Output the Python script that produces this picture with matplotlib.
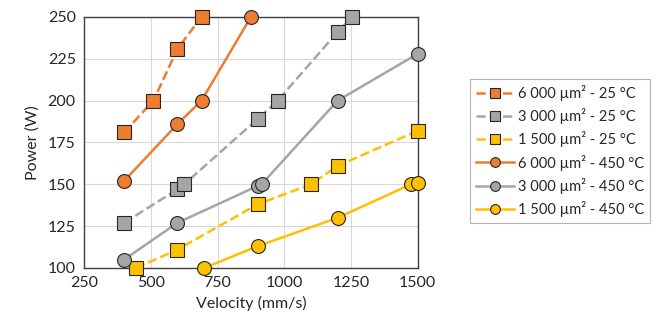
import matplotlib.pyplot as plt

plt.rcParams['font.family'] = ['Lato', 'DejaVu Sans']

orange = '#ED7D31'
grey = '#A5A5A5'
yellow = '#FFC000'

# 25 °C series (squares, dashed)
v_6000_25 = [400, 510, 600, 690]
p_6000_25 = [181, 200, 231, 250]
v_3000_25 = [400, 600, 625, 900, 975, 1200, 1255]
p_3000_25 = [127, 147, 150, 189, 200, 241, 250]
v_1500_25 = [445, 600, 900, 1100, 1200, 1500]
p_1500_25 = [100, 111, 138, 150, 161, 182]

# 450 °C series (circles, solid)
v_6000_450 = [400, 600, 690, 875]
p_6000_450 = [152, 186, 200, 250]
v_3000_450 = [400, 600, 900, 915, 1200, 1500]
p_3000_450 = [105, 127, 149, 150, 200, 228]
v_1500_450 = [700, 900, 1200, 1475, 1500]
p_1500_450 = [100, 113, 130, 150, 151]

series = [
    (v_6000_25, p_6000_25, orange, 's', '--', '6 000 µm² - 25 °C'),
    (v_3000_25, p_3000_25, grey, 's', '--', '3 000 µm² - 25 °C'),
    (v_1500_25, p_1500_25, yellow, 's', '--', '1 500 µm² - 25 °C'),
    (v_6000_450, p_6000_450, orange, 'o', '-', '6 000 µm² - 450 °C'),
    (v_3000_450, p_3000_450, grey, 'o', '-', '3 000 µm² - 450 °C'),
    (v_1500_450, p_1500_450, yellow, 'o', '-', '1 500 µm² - 450 °C'),
]

fig = plt.figure(figsize=(6.62, 3.26), dpi=100)
ax = fig.add_axes([0.127, 0.178, 0.504, 0.77])

for v, p, c, m, ls, lab in series:
    ax.plot(v, p, color=c, linestyle=ls, linewidth=1.8, marker=m,
            markersize=10 if m == 'o' else 9.5, markerfacecolor=c,
            markeredgecolor='#262626', markeredgewidth=0.8, label=lab,
            clip_on=False, zorder=3)

ax.set_xlim(250, 1500)
ax.set_ylim(100, 250)
ax.set_xticks([250, 500, 750, 1000, 1250, 1500])
ax.set_yticks([100, 125, 150, 175, 200, 225, 250])
ax.grid(True, color='#D9D9D9', linewidth=0.8)
ax.set_axisbelow(True)
for s in ax.spines.values():
    s.set_color('#404040')
    s.set_linewidth(1.0)
ax.tick_params(length=0, labelsize=11.5, colors='#262626', pad=6)
ax.set_xlabel('Velocity (mm/s)', fontsize=11.5, color='#262626', labelpad=4)
ax.set_ylabel('Power (W)', fontsize=11.5, color='#262626', labelpad=6)

leg = fig.legend(loc='upper left', bbox_to_anchor=(0.710, 0.758), fontsize=10.5,
                 frameon=True, fancybox=False, edgecolor='#A0A0A0',
                 handlelength=2.6, labelspacing=0.5, borderpad=0.4,
                 handletextpad=0.3, borderaxespad=0, markerscale=0.7)
leg.get_frame().set_linewidth(0.8)
for t in leg.get_texts():
    t.set_color('#262626')

fig.savefig('out.png', dpi=100)
